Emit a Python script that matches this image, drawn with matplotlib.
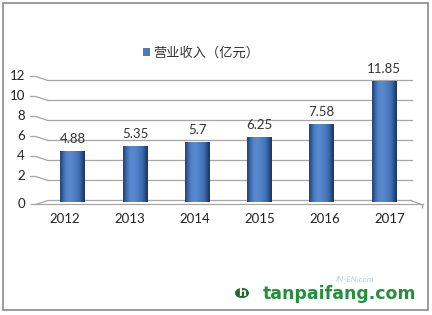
import numpy as np
import matplotlib.pyplot as plt
from matplotlib.patches import Rectangle, Circle
from matplotlib.colors import LinearSegmentedColormap

years = ['2012', '2013', '2014', '2015', '2016', '2017']
revenue = [4.88, 5.35, 5.7, 6.25, 7.58, 11.85]
value_labels = ['4.88', '5.35', '5.7', '6.25', '7.58', '11.85']
yticks = [0, 2, 4, 6, 8, 10, 12]
legend_label = '营业收入（亿元）'

plt.rcParams['font.family'] = ['Lato', 'Noto Sans CJK SC', 'DejaVu Sans']

fig = plt.figure(figsize=(4.32, 3.15), dpi=100)
fig.patch.set_facecolor('white')

# outer frame of the picture
fig.add_artist(Rectangle((0.007, 0.016), 0.984, 0.975, transform=fig.transFigure,
                         fill=False, edgecolor='#8a8a8a', linewidth=1.2))

ax = fig.add_axes([0.1111, 0.3635, 0.8426, 0.3810])
ax.axis('off')

grid_c = '#a6a6a6'
# back wall gridlines + side wall slants
for v in yticks[1:]:
    ax.plot([-0.4, 5.45], [v, v], color=grid_c, lw=0.9, clip_on=False, zorder=1)
    ax.plot([-0.68, -0.6, -0.4], [v + 0.4, v + 0.4, v], color=grid_c, lw=0.9,
            clip_on=False, zorder=1)
    ax.text(-0.77, v + 0.4, str(v), ha='right', va='center', fontsize=9.5,
            color='#222222')

# floor
ax.plot([-0.4, 5.43], [0, 0], color=grid_c, lw=0.9, clip_on=False, zorder=1)
ax.plot([-0.68, 5.62], [-0.4, -0.4], color=grid_c, lw=0.9, clip_on=False, zorder=1)
ax.plot([-0.6, -0.4], [-0.4, 0], color=grid_c, lw=0.9, clip_on=False, zorder=1)
ax.plot([5.43, 5.62, 5.62], [0, -0.45, -0.75], color=grid_c, lw=0.9, clip_on=False, zorder=1)
ax.text(-0.77, -0.35, '0', ha='right', va='center', fontsize=9.5, color='#222222')

# cylinder-like bars with horizontal gradient
grad = np.array([[0.85, 0.45, 0.15, 0.0, 0.05, 0.15, 0.3, 0.45, 0.65, 1.0]])
cmap = LinearSegmentedColormap.from_list('cyl', ['#5a8bd0', '#3d6db1', '#1c3767'])
w = 0.40
for i, val in enumerate(revenue):
    ax.imshow(grad, cmap=cmap, aspect='auto', interpolation='bicubic',
              extent=(i - w / 2, i + w / 2, -0.2, val), zorder=3, clip_on=False)
    ax.text(i, val + 1.3, value_labels[i], ha='center', va='center', fontsize=9.5,
            color='#333333', zorder=4)

# category labels (spread a bit by the perspective)
for i, y in enumerate(years):
    ax.text(-0.13 + i * 1.043, -1.9, y, ha='center', va='center', fontsize=9.5,
            color='#222222')

ax.set_xlim(-0.4, 5.45)
ax.set_ylim(0, 12)

# legend
fig.add_artist(Rectangle((143 / 432, 1 - 56 / 315), 7 / 432, 8 / 315,
                         transform=fig.transFigure, facecolor='#4a7ebb',
                         edgecolor='none'))
fig.text(153 / 432, 1 - 52 / 315, legend_label, ha='left', va='center',
         fontsize=9.5, color='#333333')

# watermark
fig.text(355 / 432, 1 - 279 / 315, 'IN-EN.com', ha='center', va='center',
         fontsize=6, color='#c0cedc', style='italic')
fig.add_artist(Circle((242 / 432, 1 - 293 / 315), 7 / 432, transform=fig.transFigure,
                      facecolor='#1f6b2e', edgecolor='none'))
fig.text(242 / 432, 1 - 293 / 315, 'h', ha='center', va='center', fontsize=8,
         color='white', fontweight='bold', family='DejaVu Sans')
fig.text(263 / 432, 1 - 294 / 315, 'tanpaifang.com', ha='left', va='center',
         fontsize=12.5, color='#23903a', fontweight='bold', family='DejaVu Sans')

fig.savefig('out.png', dpi=100)
